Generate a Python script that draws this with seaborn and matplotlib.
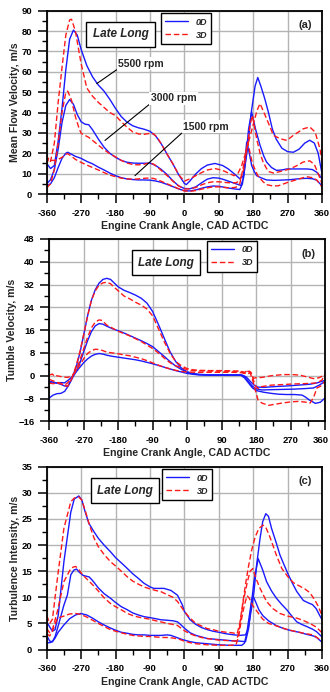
import numpy as np
import pandas as pd
import matplotlib
matplotlib.use("Agg")
import matplotlib.pyplot as plt
from matplotlib.lines import Line2D
from matplotlib.ticker import MultipleLocator
from matplotlib.transforms import ScaledTranslation
import seaborn as sns

# ---------------- Panel (a): Mean Flow Velocity ----------------
a_x_5500_0d = [-360, -350, -340, -330, -320, -310, -300, -290, -280, -270, -255, -240, -225, -210, -195, -180, -165, -150, -135, -120, -105, -90, -75, -60, -45, -30, -15, 0, 5, 15, 30, 45, 60, 80, 100, 115, 130, 145, 155, 165, 175, 185, 192, 200, 210, 220, 230, 240, 255, 270, 285, 300, 315, 328, 340, 350, 360]
a_y_5500_0d = [15, 12.5, 14, 26, 42, 61, 76, 80.5, 78, 71, 63, 57.5, 53.5, 50.5, 46.5, 42, 38, 35.3, 33.5, 32.5, 31.8, 30.8, 28.5, 24.5, 19.5, 14.8, 9.5, 5.2, 4.6, 6.5, 9.9, 12.5, 14.2, 15, 14, 12.3, 10, 7.5, 9, 22, 40, 53, 57.2, 53, 47, 40, 32, 27, 22.5, 20.8, 20.5, 22, 25, 26.4, 25, 20, 10]
a_x_5500_3d = [-360, -355, -350, -340, -330, -320, -310, -300, -295, -285, -270, -255, -240, -225, -210, -195, -180, -165, -150, -135, -120, -105, -90, -80, -70, -60, -45, -30, -15, 0, 15, 30, 45, 60, 80, 100, 115, 130, 140, 150, 160, 170, 180, 190, 198, 215, 233, 250, 268, 285, 311, 328, 342, 355, 360]
a_y_5500_3d = [15, 17.5, 16, 25, 45, 62, 78, 85.5, 85.8, 80, 64, 52, 48, 45, 42.5, 40, 38.5, 35.5, 32.8, 30.5, 29.5, 29.3, 29.8, 29.5, 27.5, 24.5, 19.5, 14.8, 9.5, 6.3, 7.5, 9, 10.5, 11.8, 12.5, 11.6, 10.3, 9, 10, 14, 20, 27, 34, 41, 44.4, 37, 28.8, 27.2, 26.3, 28.8, 32, 32.9, 30.4, 22, 16]
a_x_3000_0d = [-360, -350, -340, -330, -320, -310, -300, -290, -280, -270, -260, -250, -240, -225, -210, -195, -180, -165, -150, -135, -120, -105, -90, -75, -60, -45, -30, -15, 0, 15, 30, 45, 60, 75, 90, 105, 120, 135, 148, 155, 162, 168, 176, 186, 198, 208, 215, 228, 241, 255, 268, 285, 300, 320, 335, 346, 354, 360]
a_y_3000_0d = [5, 7, 12, 22, 35, 43.5, 46.4, 44, 39, 35.5, 34.3, 34, 31.5, 27, 23, 20, 18, 16.5, 15.6, 15.2, 15.1, 15.1, 15.2, 14, 12, 9.5, 6.5, 4, 2.7, 2.6, 3.5, 5.5, 7.3, 8, 7.8, 7, 6, 5, 4.2, 8, 20, 32, 40.3, 32, 23.9, 18.5, 15.7, 13, 11.6, 11.8, 12.3, 12.3, 12.3, 12.3, 12, 10.7, 9, 7.5]
a_x_3000_3d = [-360, -350, -340, -330, -320, -310, -305, -295, -285, -275, -270, -260, -250, -240, -225, -210, -195, -180, -165, -150, -135, -120, -105, -90, -80, -70, -60, -45, -30, -15, 0, 15, 30, 45, 60, 75, 90, 105, 120, 135, 145, 155, 165, 172, 178, 189, 198, 206, 219, 233, 250, 276, 295, 311, 328, 340, 350, 360]
a_y_3000_3d = [3, 5, 12, 25, 40, 50, 50.5, 46, 38, 32, 29.8, 28.8, 27.8, 26.3, 24, 21.7, 19.8, 18.2, 16.5, 15.2, 14.5, 14.3, 14.6, 15.3, 14.6, 13.2, 11.5, 9, 6.3, 4, 2.5, 2.5, 3.2, 4.5, 5.5, 6, 6, 5.7, 5.5, 5.5, 6.5, 12, 24, 34, 38.6, 27.2, 20, 15.7, 11.1, 10.3, 11, 12.3, 14, 15.7, 16.3, 14.5, 10, 5]
a_x_1500_0d = [-360, -350, -340, -330, -320, -310, -305, -295, -285, -270, -255, -240, -225, -210, -195, -180, -165, -150, -135, -120, -105, -90, -75, -60, -45, -30, -15, 0, 15, 30, 45, 60, 75, 90, 105, 120, 135, 145, 152, 158, 163, 170, 176, 183, 189, 200, 215, 235, 250, 275, 300, 320, 335, 346, 360]
a_y_1500_0d = [4, 5, 8, 13, 17.5, 20, 20.5, 19.5, 18.5, 17.5, 16, 14.8, 13.2, 11.8, 10.3, 9, 8, 7.4, 7.1, 6.9, 6.9, 6.8, 6.4, 5.7, 4.7, 3.6, 2.5, 1.6, 1.5, 2, 2.8, 3.5, 3.9, 3.8, 3.3, 2.8, 2.4, 2.2, 5, 15, 25.5, 20, 14, 11, 9, 8, 6.9, 6.7, 6.8, 7, 7.5, 7.7, 7.5, 6.8, 4]
a_x_1500_3d = [-360, -355, -350, -340, -330, -320, -310, -305, -295, -285, -270, -255, -240, -225, -210, -195, -180, -165, -150, -135, -120, -105, -90, -80, -70, -60, -45, -30, -15, 0, 15, 30, 45, 60, 75, 90, 105, 120, 135, 145, 155, 162, 166, 172, 178, 185, 192, 198, 206, 215, 230, 245, 260, 275, 290, 305, 320, 335, 346, 360]
a_y_1500_3d = [15, 17.5, 16.5, 16.5, 17, 18, 19.5, 19.8, 18.5, 17, 15.5, 14.2, 13, 11.8, 10.5, 9.3, 8.5, 7.8, 7.4, 7.3, 7.4, 7.7, 7.9, 7.6, 7, 6.2, 5, 3.8, 2.6, 1.5, 1.3, 1.7, 2.4, 3, 3.5, 3.5, 3.2, 3, 3.3, 5, 14, 22, 25.5, 20, 15, 12, 9, 7.7, 6, 4.6, 4, 4, 5, 6, 6.8, 7.7, 8.5, 8, 6.9, 3.5]

# ---------------- Panel (b): Tumble Velocity ----------------
b_x_5500_0d = [-360, -350, -340, -330, -320, -310, -300, -290, -280, -270, -260, -250, -240, -230, -220, -210, -200, -190, -180, -165, -150, -135, -120, -105, -90, -75, -60, -45, -30, -15, 0, 15, 30, 60, 90, 120, 140, 150, 160, 170, 180, 190, 200, 220, 240, 260, 280, 300, 309, 320, 335, 348, 360]
b_y_5500_0d = [-7.8, -6.8, -6.3, -6.2, -5.5, -3.5, -0.5, 3, 8, 14.5, 21, 26.5, 30.2, 32.5, 33.8, 34.2, 33.8, 32.5, 31.2, 30, 29.2, 28.3, 27.2, 25.5, 22.5, 18, 13.2, 8.5, 5, 2.7, 1.3, 0.7, 0.4, 0.2, 0.2, 0.2, 0.2, -0.8, -2.5, -4.2, -5.2, -5.5, -5.8, -6.2, -6.5, -6.6, -6.6, -6.8, -7.5, -8.6, -9.7, -9.3, -7.8]
b_x_5500_3d = [-360, -350, -340, -330, -320, -312, -300, -290, -280, -270, -260, -250, -240, -230, -220, -210, -200, -190, -180, -165, -150, -135, -120, -105, -90, -75, -60, -45, -30, -15, 0, 15, 30, 60, 90, 120, 140, 150, 158, 165, 172, 178, 185, 195, 213, 230, 248, 270, 291, 310, 321, 330, 339, 348, 360]
b_y_5500_3d = [-2.6, -2.8, -2.6, -2.8, -3.3, -2.5, -0.5, 3.5, 8.5, 14.5, 21, 26.5, 29.8, 31.8, 32.6, 32.8, 32.3, 31, 29.8, 28, 27, 25.8, 24.8, 23.4, 21, 16.5, 12, 8, 5, 3.5, 2.5, 2.1, 1.9, 1.8, 1.8, 1.7, 1.6, 1.2, 1.8, 0.8, -2, -5, -8.5, -9.6, -10.4, -10, -9.6, -9.2, -9, -9.3, -9.6, -7.7, -4.3, -3.7, -2]
b_x_3000_0d = [-360, -350, -340, -330, -320, -312, -305, -298, -290, -280, -270, -260, -250, -240, -230, -220, -210, -195, -180, -165, -150, -135, -120, -105, -90, -75, -60, -45, -30, -15, 0, 15, 30, 60, 90, 120, 140, 150, 160, 170, 180, 195, 220, 250, 280, 310, 330, 345, 360]
b_y_3000_0d = [-2, -2.2, -2.6, -3, -3.6, -3.7, -2.2, -0.4, 1.5, 4.5, 8.5, 12.3, 15.5, 17.5, 18.3, 18.1, 17.4, 16.5, 15.8, 15, 14.1, 13.2, 12.3, 11.3, 10.2, 8.5, 6.8, 5, 3.4, 2.2, 1.3, 0.8, 0.5, 0.3, 0.3, 0.3, 0.3, -0.3, -2, -3.6, -4.6, -5, -4.9, -4.8, -4.7, -4.5, -4.3, -3.3, -2]
b_x_3000_3d = [-360, -350, -340, -330, -320, -312, -305, -298, -290, -280, -270, -260, -250, -240, -230, -222, -210, -195, -180, -165, -150, -135, -120, -105, -90, -75, -60, -45, -30, -15, 0, 15, 30, 60, 90, 120, 140, 150, 158, 166, 172, 178, 185, 195, 220, 250, 275, 300, 320, 340, 352, 360]
b_y_3000_3d = [-1.3, -1.8, -2.3, -2.7, -3.5, -3.7, -2, 0, 2, 5.5, 9.5, 13.5, 16.8, 18.8, 19.6, 19.4, 17.8, 16.7, 15.6, 14.8, 14, 13, 12, 10.8, 9.5, 8, 6.2, 4.6, 3.5, 2.8, 2.1, 1.8, 1.7, 1.6, 1.6, 1.5, 1.4, 1, 0.5, 1.3, -1, -3.5, -4.5, -3.8, -3.3, -3.1, -2.9, -2.8, -2.7, -2.5, -1.5, 0.5]
b_x_1500_0d = [-360, -350, -340, -330, -320, -310, -300, -290, -280, -270, -260, -250, -240, -230, -220, -210, -195, -180, -165, -150, -135, -120, -105, -90, -75, -60, -45, -30, -15, 0, 15, 30, 60, 90, 120, 145, 155, 165, 175, 185, 200, 230, 260, 290, 320, 340, 360]
b_y_1500_0d = [-2.4, -2.6, -2.5, -2.4, -2.5, -1.5, -0.3, 1.3, 3, 4.6, 5.9, 6.9, 7.5, 7.8, 7.6, 7.2, 6.8, 6.5, 6.2, 5.9, 5.6, 5.2, 4.7, 4.2, 3.6, 3, 2.4, 1.8, 1.3, 0.8, 0.5, 0.3, 0.2, 0.2, 0.2, 0.2, -0.5, -2, -3.3, -4, -4.1, -3.8, -3.6, -3.3, -3, -2.5, -1.6]
b_x_1500_3d = [-360, -352, -346, -340, -330, -320, -312, -300, -290, -280, -270, -260, -250, -240, -230, -220, -210, -195, -180, -165, -150, -135, -120, -105, -90, -75, -60, -45, -30, -15, 0, 30, 60, 90, 120, 140, 150, 158, 163, 168, 173, 180, 195, 220, 250, 275, 295, 315, 330, 345, 360]
b_y_1500_3d = [0.2, 0.6, -0.3, 0, -0.3, -0.5, -0.6, 0, 1.8, 3.8, 6, 7.8, 8.8, 9.3, 9.2, 8.8, 8.3, 8, 7.7, 7.3, 7, 6.5, 6, 5.3, 4.5, 3.7, 3, 2.4, 1.9, 1.5, 1.3, 1.2, 1.2, 1.2, 1.2, 1.1, 0.8, 1.5, 1.6, 0.8, -0.9, -0.7, -0.6, 0, 0.4, 0.4, 0.2, -0.5, -1, -0.7, 0.4]

# ---------------- Panel (c): Turbulence Intensity ----------------
c_x_5500_0d = [-360, -352, -345, -338, -330, -315, -297, -288, -276, -268, -260, -250, -236, -225, -210, -193, -180, -165, -149, -135, -120, -106, -90, -80, -53, -35, -18, -5, 0, 15, 30, 45, 60, 75, 90, 110, 130, 145, 160, 167, 176, 182, 189, 198, 205, 213, 220, 228, 240, 250, 262, 272, 284, 294, 311, 325, 335, 345, 352, 360]
c_y_5500_0d = [5.3, 4.3, 3.5, 3.8, 6.5, 16.8, 26.3, 28.8, 29.4, 28.6, 26.5, 24.2, 22.5, 21.3, 20, 18.7, 17.6, 16.6, 15.5, 14.5, 13.6, 12.7, 12, 11.7, 11.7, 11.3, 10.4, 8.5, 7.3, 5.7, 4.8, 4.2, 3.8, 3.5, 3.3, 3, 2.8, 2.7, 2.8, 4, 8, 11, 16.2, 21.3, 24.5, 26, 25.5, 23.2, 20.5, 18.1, 16, 14.3, 12.5, 11.1, 9.4, 8.9, 8.6, 7.8, 6.8, 5.7]
c_x_5500_3d = [-360, -352, -345, -332, -315, -297, -288, -276, -268, -258, -248, -236, -225, -210, -193, -180, -165, -149, -135, -120, -106, -90, -75, -62, -45, -30, -18, 0, 15, 30, 45, 60, 75, 90, 110, 125, 138, 145, 152, 160, 168, 176, 185, 195, 206, 213, 224, 241, 255, 270, 285, 300, 315, 328, 340, 350, 360]
c_y_5500_3d = [6.5, 5, 5.8, 13.6, 23.2, 28.3, 29, 29.2, 28.6, 26.3, 23.8, 21.3, 19.7, 18.2, 16.8, 16, 15, 13.9, 13.1, 12.5, 12, 11.6, 11.3, 11.1, 10.5, 10, 9.2, 7.3, 6, 5, 4.5, 4, 3.8, 3.5, 3.3, 3.2, 3, 5, 8.5, 12.5, 16, 19, 21.5, 23.2, 23.8, 23.4, 21.5, 18, 15.5, 14, 12.8, 12.2, 11.6, 10.9, 9.6, 8.3, 6.5]
c_x_3000_0d = [-360, -352, -345, -338, -330, -315, -306, -297, -289, -282, -275, -265, -255, -249, -240, -225, -210, -193, -180, -165, -149, -135, -120, -106, -90, -75, -62, -45, -30, -18, -10, 0, 15, 30, 45, 60, 90, 120, 145, 160, 168, 175, 182, 193, 205, 215, 228, 241, 255, 268, 280, 294, 307, 320, 335, 346, 360]
c_y_3000_0d = [2.7, 1.6, 1.5, 2.5, 4.5, 8.5, 10.4, 14.3, 15.2, 15.4, 14.8, 14.2, 14, 13.9, 13.2, 11.8, 10.7, 9.8, 9, 8.2, 7.6, 7, 6.6, 6.3, 6.1, 5.9, 5.7, 5.6, 5.5, 5.3, 4.8, 4.1, 3.2, 2.7, 2.4, 2.1, 1.9, 1.7, 1.6, 1.5, 4, 8.5, 13, 17.4, 15.2, 13, 11.2, 9.8, 8.6, 7.6, 6.5, 5.3, 4.8, 4.4, 3.9, 3.4, 2.4]
c_x_3000_3d = [-360, -352, -345, -332, -315, -297, -290, -284, -275, -265, -255, -240, -225, -210, -193, -180, -165, -149, -135, -120, -106, -90, -75, -62, -45, -30, -18, 0, 15, 30, 45, 60, 90, 115, 135, 141, 148, 154, 165, 172, 179, 188, 198, 215, 232, 250, 270, 294, 310, 328, 345, 360]
c_y_3000_3d = [4, 3.2, 3.8, 7.3, 13, 15.5, 15.8, 15.9, 15.2, 14.2, 13.5, 12.4, 11.2, 9.9, 8.8, 8.2, 7.6, 6.9, 6.5, 6.2, 6, 5.8, 5.5, 5.3, 5, 4.8, 4.6, 3.6, 3, 2.6, 2.3, 2.1, 1.8, 1.7, 1.6, 2.8, 6, 9.2, 13, 15, 15.5, 13.5, 11.7, 9.2, 7.8, 6.9, 6.4, 6, 5.6, 5, 4.3, 3.2]
c_x_1500_0d = [-360, -352, -345, -338, -330, -315, -300, -285, -271, -255, -240, -225, -210, -193, -180, -165, -149, -135, -120, -105, -90, -75, -60, -45, -35, -20, -5, 0, 15, 30, 60, 90, 120, 150, 157, 163, 170, 176, 180, 186, 195, 205, 220, 240, 260, 280, 300, 320, 337, 346, 360]
c_y_1500_0d = [1.3, 1.3, 1.5, 2.2, 3.3, 4.7, 5.9, 6.6, 6.9, 6.6, 6, 5.3, 4.7, 4.1, 3.7, 3.3, 3.1, 2.9, 2.8, 2.8, 2.7, 2.7, 2.7, 2.8, 2.7, 2.3, 1.9, 1.8, 1.5, 1.3, 1.1, 0.9, 0.8, 0.8, 1.2, 3, 6.5, 9.5, 10.2, 9.2, 7.6, 6.5, 5.5, 4.6, 4, 3.6, 3.3, 2.9, 2.6, 2.3, 1.4]
c_x_1500_3d = [-360, -352, -345, -332, -315, -300, -284, -270, -255, -240, -225, -210, -193, -180, -165, -149, -135, -120, -105, -90, -75, -60, -45, -30, -15, 0, 15, 30, 60, 90, 120, 135, 142, 150, 157, 164, 170, 178, 190, 205, 220, 233, 250, 270, 294, 320, 337, 360]
c_y_1500_3d = [3, 2.6, 3.5, 6, 6.4, 6.8, 6.9, 6.7, 6.2, 5.6, 5, 4.4, 3.8, 3.5, 3.2, 2.9, 2.7, 2.6, 2.5, 2.5, 2.4, 2.3, 2.3, 2.2, 2, 1.6, 1.3, 1.1, 0.9, 0.8, 0.8, 0.9, 2.5, 6, 8.5, 10.3, 9.8, 8.5, 7.3, 5.8, 5, 4.7, 4.3, 3.8, 3.4, 3, 2.8, 1.6]

x_ticks = [-360, -270, -180, -90, 0, 90, 180, 270, 360]
rpm_labels = ["5500 rpm", "3000 rpm", "1500 rpm"]
panel_titles = ["(a)", "(b)", "(c)"]
y_labels = ["Mean Flow Velocity, m/s", "Tumble Velocity, m/s", "Turbulence Intensity, m/s"]
x_label = "Engine Crank Angle, CAD ACTDC"
case_label = "Late Long"
series_labels = ["0D", "3D"]

sns.set_theme(style="white")
plt.rcParams["font.family"] = ["Liberation Sans", "DejaVu Sans"]
plt.rcParams["font.weight"] = "bold"

BLUE = "#1a1aff"
RED = "#ff1a1a"
W, H = 330, 692
fig = plt.figure(figsize=(W / 100, H / 100), dpi=100)
fig.patch.set_facecolor("white")

def pos(l, t, r, b):
    return [l / W, 1 - b / H, (r - l) / W, (b - t) / H]

ax_a = fig.add_axes(pos(46.7, 10.7, 322, 194))
ax_b = fig.add_axes(pos(49.3, 239, 325, 421.3))
ax_c = fig.add_axes(pos(46.7, 466.7, 322, 649.5))

panels = [
    (ax_a, [(a_x_5500_0d, a_y_5500_0d), (a_x_3000_0d, a_y_3000_0d), (a_x_1500_0d, a_y_1500_0d)],
           [(a_x_5500_3d, a_y_5500_3d), (a_x_3000_3d, a_y_3000_3d), (a_x_1500_3d, a_y_1500_3d)],
     (0, 90), 10, 5, (0.269, 0.871), (0.415, 0.985)),
    (ax_b, [(b_x_5500_0d, b_y_5500_0d), (b_x_3000_0d, b_y_3000_0d), (b_x_1500_0d, b_y_1500_0d)],
           [(b_x_5500_3d, b_y_5500_3d), (b_x_3000_3d, b_y_3000_3d), (b_x_1500_3d, b_y_1500_3d)],
     (-16, 48), 8, 4, (0.423, 0.869), (0.571, 0.987)),
    (ax_c, [(c_x_5500_0d, c_y_5500_0d), (c_x_3000_0d, c_y_3000_0d), (c_x_1500_0d, c_y_1500_0d)],
           [(c_x_5500_3d, c_y_5500_3d), (c_x_3000_3d, c_y_3000_3d), (c_x_1500_3d, c_y_1500_3d)],
     (0, 35), 5, 2.5, (0.284, 0.869), (0.418, 0.985)),
]

for i, (ax, od, td, ylim, ymaj, ymin, ll_pos, leg_pos) in enumerate(panels):
    for xs, ys in od:
        sns.lineplot(x=xs, y=ys, ax=ax, color=BLUE, lw=1.0, sort=False, estimator=None, legend=False)
    for xs, ys in td:
        sns.lineplot(x=xs, y=ys, ax=ax, color=RED, lw=1.0, sort=False, estimator=None, legend=False,
                     linestyle=(0, (4, 2)))
    ax.set_xlim(-360, 360)
    ax.set_ylim(*ylim)
    ax.set_xticks(x_ticks)
    ax.set_xticklabels([str(v) for v in x_ticks], fontsize=6.8, fontweight="bold")
    ax.xaxis.set_minor_locator(MultipleLocator(45))
    ax.yaxis.set_major_locator(MultipleLocator(ymaj))
    ax.yaxis.set_minor_locator(MultipleLocator(ymin))
    for lab in ax.get_yticklabels():
        lab.set_fontsize(6.8)
        lab.set_fontweight("bold")
    ax.tick_params(which="both", direction="out", left=True, bottom=True, top=False, right=False,
                   colors="black", pad=4)
    ax.tick_params(which="major", length=6.5, width=1.1)
    ax.tick_params(which="minor", length=3.3, width=1.0)
    ax.grid(True, which="major", color="#b4b4b4", lw=1.0)
    ax.set_axisbelow(True)
    for sp in ax.spines.values():
        sp.set_color("black")
        sp.set_linewidth(1.3)
    ax.set_xlabel(x_label, fontsize=7.6, fontweight="bold", labelpad=2.5)
    ax.set_ylabel(y_labels[i], fontsize=7.6, fontweight="bold", labelpad=1)
    ax.text(ll_pos[0], ll_pos[1], case_label, transform=ax.transAxes, ha="center", va="center",
            fontsize=8.5, fontweight="bold", fontstyle="italic",
            bbox=dict(boxstyle="square,pad=0.55", fc="white", ec="black", lw=1.0))
    ax.text(0.94, 0.92, panel_titles[i], transform=ax.transAxes, ha="center", va="center",
            fontsize=8, fontweight="bold")
    handles = [Line2D([], [], color=BLUE, lw=1.0),
               Line2D([], [], color=RED, lw=1.0, linestyle=(0, (4, 2)))]
    leg = ax.legend(handles, series_labels, loc="upper left", bbox_to_anchor=leg_pos, borderaxespad=0,
                    frameon=True, fancybox=False, edgecolor="black", framealpha=1,
                    prop=dict(family="Liberation Sans", weight="bold", style="italic", size=6.5),
                    handlelength=2.6, handletextpad=0.8, borderpad=0.45, labelspacing=0.45)
    leg.get_frame().set_linewidth(1.0)

# keep the last x tick label of panel (b) inside the canvas
last = ax_b.get_xticklabels()[-1]
last.set_transform(last.get_transform() + ScaledTranslation(-4 / 100, 0, fig.dpi_scale_trans))

# rpm annotations on panel (a)
ann = [("5500 rpm", (-229, 54.2), (-173, 64)),
       ("3000 rpm", (-207.6, 26.3), (-88, 47)),
       ("1500 rpm", (-129.3, 9.0), (-3, 33))]
for txt, xy, xyt in ann:
    ax_a.annotate(txt, xy=xy, xytext=xyt, ha="left", va="center", fontsize=7.5, fontweight="bold",
                  bbox=dict(boxstyle="square,pad=0.15", fc="white", ec="none"),
                  arrowprops=dict(arrowstyle="-", color="black", lw=0.8, relpos=(0, 0),
                                  shrinkA=0, shrinkB=0))

fig.savefig("out.png", dpi=100, facecolor="white")
